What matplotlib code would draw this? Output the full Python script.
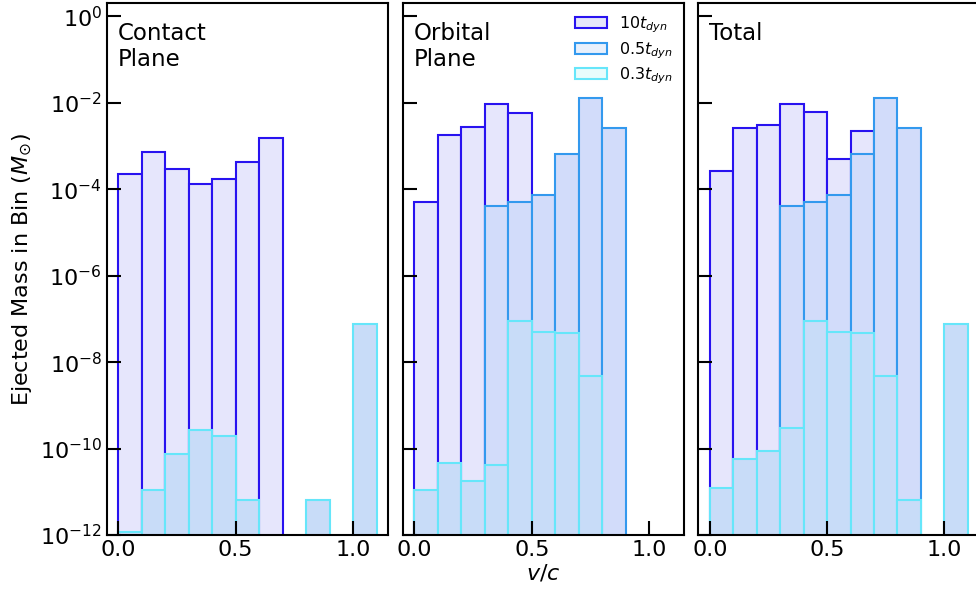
import numpy as np
import matplotlib
matplotlib.use('Agg')
import matplotlib.pyplot as plt
from matplotlib.patches import Patch

# velocity bins (v/c)
edges = np.round(np.arange(0, 1.11, 0.1), 2)

# ejected mass per bin (Msun), 0 = empty bin
contact_10 = [2.2e-4, 7.4e-4, 3.0e-4, 1.3e-4, 1.7e-4, 4.2e-4, 1.5e-3, 0, 0, 0, 0]
contact_05 = [0, 0, 0, 0, 0, 0, 0, 0, 0, 0, 0]
contact_03 = [1.05e-12, 1.07e-11, 7.4e-11, 2.7e-10, 2.0e-10, 6.2e-12, 0, 0, 6.5e-12, 0, 7.5e-8]

orbital_10 = [5.2e-5, 1.8e-3, 2.8e-3, 9.3e-3, 5.8e-3, 0, 0, 0, 0, 0, 0]
orbital_05 = [0, 0, 0, 4.0e-5, 5.2e-5, 7.5e-5, 6.6e-4, 1.28e-2, 2.6e-3, 0, 0]
orbital_03 = [1.07e-11, 4.7e-11, 1.8e-11, 4.1e-11, 8.9e-8, 5.1e-8, 4.8e-8, 4.9e-9, 0, 0, 0]

total_10 = [2.7e-4, 2.6e-3, 3.1e-3, 9.5e-3, 6.0e-3, 4.9e-4, 2.2e-3, 0, 0, 0, 0]
total_05 = [0, 0, 0, 4.0e-5, 5.2e-5, 7.5e-5, 6.6e-4, 1.3e-2, 2.6e-3, 0, 0]
total_03 = [1.2e-11, 5.6e-11, 8.9e-11, 3.0e-10, 8.9e-8, 5.1e-8, 4.8e-8, 4.9e-9, 6.5e-12, 0, 7.5e-8]

panels = [
    ('Contact\nPlane', [contact_10, contact_05, contact_03]),
    ('Orbital\nPlane', [orbital_10, orbital_05, orbital_03]),
    ('Total', [total_10, total_05, total_03]),
]
labels = [r'$10t_{dyn}$', r'$0.5t_{dyn}$', r'$0.3t_{dyn}$']
edgecols = ['#2812f0', '#3399ee', '#66e6fa']
facecols = ['#e6e6fc', '#d2dcfa', '#c8dcf8']
legend_faces = ['#e6e6fa', '#e8f0fc', '#e8fcfc']

fig = plt.figure(figsize=(9.76, 5.92), dpi=100)
lefts = [0.1093, 0.4126, 0.7152]
w, bottom, h = 0.2885, 0.0963, 0.898

axes = []
for i, (title, series) in enumerate(panels):
    ax = fig.add_axes([lefts[i], bottom, w, h])
    axes.append(ax)
    for vals, ec, fc in zip(series, edgecols, facecols):
        vals = np.array(vals, dtype=float)
        m = vals > 0
        ax.bar(edges[:-1][m], vals[m], width=0.1, align='edge', bottom=1e-13,
               facecolor=fc, edgecolor=ec, linewidth=1.5)
    ax.set_yscale('log')
    ax.set_ylim(1e-12, 2)
    ax.set_xlim(-0.05, 1.15)
    ax.set_xticks([0.0, 0.5, 1.0])
    ax.set_xticklabels(['0.0', '0.5', '1.0'])
    ax.set_yticks([1e-12, 1e-10, 1e-8, 1e-6, 1e-4, 1e-2, 1e0])
    ax.minorticks_off()
    ax.tick_params(direction='in', length=10, width=1.5, labelsize=16,
                   top=False, right=False)
    if i > 0:
        ax.set_yticklabels([])
    for sp in ax.spines.values():
        sp.set_linewidth(1.5)
    ax.text(0.04, 0.965, title, transform=ax.transAxes, fontsize=16.5,
            va='top', ha='left', linespacing=1.15)

axes[0].set_ylabel(r'Ejected Mass in Bin ($M_{\odot}$)', fontsize=16)
axes[1].set_xlabel(r'$v/c$', fontsize=16, labelpad=2)

handles = [Patch(facecolor=fc, edgecolor=ec, linewidth=1.5)
           for fc, ec in zip(legend_faces, edgecols)]
axes[1].legend(handles, labels, loc='upper right', frameon=False,
               fontsize=11.5, labelspacing=0.3, handlelength=2.0,
               borderaxespad=0.3)

fig.savefig('out.png', dpi=100)
